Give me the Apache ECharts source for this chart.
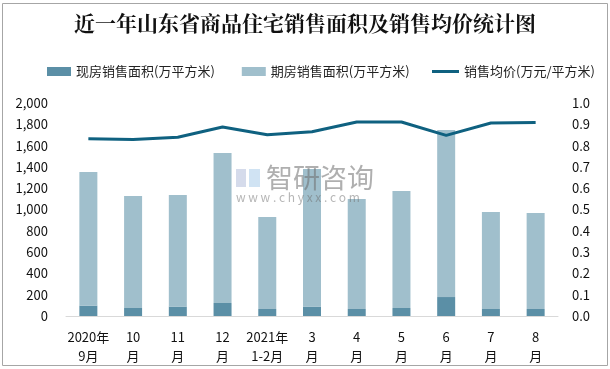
<!DOCTYPE html>
<html><head><meta charset="utf-8">
<script src="https://cdn.jsdelivr.net/npm/echarts@6/dist/echarts.min.js"></script>
<style>html,body{margin:0;padding:0;background:#fff}#c{width:610px;height:369px}</style>
</head><body><div id="c"></div>
<script>
const categories = ['2020年\n9月','10\n月','11\n月','12\n月','2021年\n1-2月','3\n月','4\n月','5\n月','6\n月','7\n月','8\n月'];
const xianfang = [97, 75, 88, 122, 66, 88, 66, 75, 178, 66, 66];
const qifang = [1255, 1052, 1048, 1408, 864, 1292, 1033, 1099, 1568, 910, 901];
const price = [0.832, 0.829, 0.839, 0.887, 0.851, 0.865, 0.911, 0.911, 0.848, 0.906, 0.909];
const leftTicks = {min: 0, max: 2000, interval: 200};
const rightTicks = {min: 0, max: 1, interval: 0.1};

const FONT = '"Noto Sans CJK SC", "Liberation Sans", sans-serif';
const chart = echarts.init(document.getElementById('c'), null, {renderer: 'canvas'});
chart.setOption({
  animation: false,
  backgroundColor: '#fff',
  textStyle: {fontFamily: FONT},
  title: {
    text: '近一年山东省商品住宅销售面积及销售均价统计图',
    left: 'center', top: 8,
    textStyle: {fontSize: 21, fontWeight: 'bold', color: '#111', fontFamily: '"Noto Serif CJK SC", "Noto Sans CJK SC", serif'}
  },
  legend: [
    {
      top: 60, left: 42, itemGap: 27, itemWidth: 24, itemHeight: 9,
      textStyle: {fontSize: 13, color: '#222', fontFamily: FONT},
      data: [
        {name: '现房销售面积(万平方米)', icon: 'rect'},
        {name: '期房销售面积(万平方米)', icon: 'rect'}
      ]
    },
    {
      top: 60, left: 427, itemWidth: 27, itemHeight: 3,
      textStyle: {fontSize: 13, color: '#222', fontFamily: FONT},
      data: [{name: '销售均价(万元/平方米)', icon: 'rect'}]
    }
  ],
  graphic: [
    {type: 'rect', shape: {x: 2.5, y: 3.5, width: 605, height: 362}, style: {fill: 'none', stroke: '#a6a6a6', lineWidth: 1}, silent: true},
    {type: 'rect', shape: {x: 236, y: 169, width: 10, height: 18}, style: {fill: 'rgba(150,165,205,0.4)'}, silent: true, z: 100},
    {type: 'rect', shape: {x: 249, y: 169, width: 11, height: 18}, style: {fill: 'rgba(120,175,220,0.35)'}, silent: true, z: 100},
    {type: 'text', left: 266, top: 164, style: {text: '智研咨询', fill: 'rgba(110,110,110,0.55)', font: '27px ' + FONT}, silent: true, z: 100},
    {type: 'text', left: 236, top: 191, style: {text: 'w w w . c h y x x . c o m', fill: 'rgba(110,110,110,0.5)', font: '12px ' + FONT}, silent: true, z: 100}
  ],
  grid: {left: 66, right: 52, top: 103, bottom: 53, containLabel: false},
  xAxis: {
    type: 'category', data: categories,
    axisLine: {lineStyle: {color: '#d9d9d9', width: 1}},
    axisTick: {show: false},
    axisLabel: {interval: 0, fontSize: 13, color: '#111', lineHeight: 19, margin: 12, fontFamily: FONT}
  },
  yAxis: [
    {type: 'value', min: leftTicks.min, max: leftTicks.max, interval: leftTicks.interval,
     splitLine: {show: false}, axisLine: {show: false}, axisTick: {show: false},
     axisLabel: {fontSize: 13, color: '#111', margin: 18, fontFamily: FONT,
       formatter: v => v.toLocaleString('en-US')}},
    {type: 'value', min: rightTicks.min, max: rightTicks.max, interval: rightTicks.interval,
     splitLine: {show: false}, axisLine: {show: false}, axisTick: {show: false},
     axisLabel: {fontSize: 13, color: '#111', margin: 14, fontFamily: FONT,
       formatter: v => v.toFixed(1)}}
  ],
  series: [
    {name: '现房销售面积(万平方米)', type: 'bar', stack: 'area', barWidth: 18, data: xianfang,
     itemStyle: {color: '#5b8fa6'}},
    {name: '期房销售面积(万平方米)', type: 'bar', stack: 'area', barWidth: 18, data: qifang,
     itemStyle: {color: '#a0bfcc'}},
    {name: '销售均价(万元/平方米)', type: 'line', yAxisIndex: 1, data: price,
     symbol: 'none', lineStyle: {color: '#0f6180', width: 3}, itemStyle: {color: '#0f6180'}, z: 5}
  ]
});
</script></body></html>
